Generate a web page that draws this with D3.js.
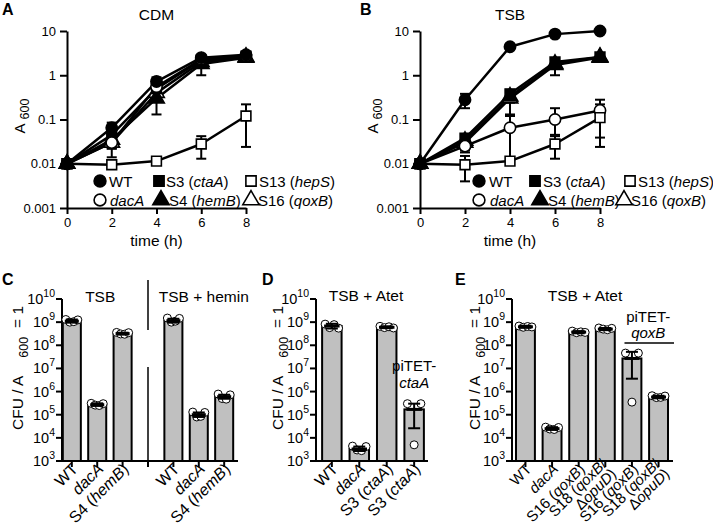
<!DOCTYPE html>
<html><head><meta charset="utf-8">
<script src="https://cdn.jsdelivr.net/npm/d3@7"></script>
<style>
body{margin:0;background:#fff}
text{font-family:"Liberation Sans",Arial,sans-serif;fill:#000}
</style></head><body>
<svg id="c" width="713" height="528" xmlns="http://www.w3.org/2000/svg"></svg>
<script>
// ---------------- DATA ----------------
const times=[0,2,4,6,8];
const growthTicks=[0.001,0.01,0.1,1,10];
const growthTickLabels=["0.001","0.01","0.1","1","10"];
const strains=["WT","dacA","S3","S4","S13","S16"];
const strainLabels=["WT","dacA","S3 (ctaA)","S4 (hemB)","S13 (hepS)","S16 (qoxB)"];

// Panel A: CDM (A600)
const cdmWT   =[0.01,0.065,0.72,2.5,2.9];
const cdmWTHi =[null,0.085,0.9,null,null];
const cdmWTLo =[null,0.05,0.55,null,null];
const cdmDac  =[0.01,0.03,0.55,2.3,2.7];
const cdmDacHi=[null,0.04,0.7,2.7,3.0];
const cdmDacLo=[null,0.022,0.4,2.0,2.4];
const cdmS3   =[0.01,0.045,0.5,2.2,2.7];
const cdmS3Hi =[null,0.055,0.6,2.5,3.0];
const cdmS3Lo =[null,0.035,0.4,1.9,2.4];
const cdmS4   =[0.01,0.035,0.3,1.8,2.5];
const cdmS4Hi =[null,0.045,0.45,2.2,2.8];
const cdmS4Lo =[null,0.014,0.13,1.0,2.2];
const cdmS13  =[0.01,0.0095,0.0115,0.028,0.12];
const cdmS13Hi=[null,null,null,0.042,0.22];
const cdmS13Lo=[null,null,null,0.013,0.024];
const cdmS16  =[0.01,0.03,0.4,2.0,2.6];
const cdmS16Hi=[null,0.038,0.5,2.4,2.9];
const cdmS16Lo=[null,0.022,0.3,1.6,2.3];

// Panel B: TSB (A600)
const tsbWT   =[0.01,0.28,4.4,8.5,10];
const tsbWTHi =[null,0.38,null,null,null];
const tsbWTLo =[null,0.18,null,null,null];
const tsbDac  =[0.01,0.025,0.065,0.1,0.16];
const tsbDacHi=[null,0.03,0.13,0.18,0.28];
const tsbDacLo=[null,0.02,0.012,0.045,0.039];
const tsbS3   =[0.01,0.038,0.38,2.0,2.6];
const tsbS3Hi =[null,0.045,0.47,2.4,3.0];
const tsbS3Lo =[null,0.03,0.3,1.7,2.3];
const tsbS4   =[0.01,0.033,0.33,1.8,2.6];
const tsbS4Hi =[null,0.04,0.42,2.2,2.9];
const tsbS4Lo =[null,0.018,0.12,1.0,2.3];
const tsbS13  =[0.01,0.0095,0.0115,0.028,0.11];
const tsbS13Hi=[null,0.015,null,0.042,0.22];
const tsbS13Lo=[null,0.004,null,0.013,0.024];
const tsbS16  =[0.01,0.03,0.3,1.7,2.5];
const tsbS16Hi=[null,0.036,0.38,2.0,2.8];
const tsbS16Lo=[null,0.024,0.24,1.4,2.2];

// Bar panels (CFU / A600 = 1)
const cfuTicks=[1e3,1e4,1e5,1e6,1e7,1e8,1e9,1e10];
const cfuTickExp=["3","4","5","6","7","8","9","10"];

// Panel C
const cIds   =["WT","dacA","S4","gap","WT+h","dacA+h","S4+h"];
const cLabels=["WT","dacA","S4 (hemB)","","WT","dacA","S4 (hemB)"];
const cMeans =[1.1e9,2.7e5,3.2e8,null,1.15e9,1.0e5,6.0e5];
const cHi    =[1.3e9,3.1e5,3.5e8,null,1.4e9,1.25e5,7.3e5];
const cLo    =[9.5e8,2.4e5,2.9e8,null,9.5e8,8e4,4.9e5];
const cReps  =[[1.3e9,1.0e9,1.05e9,1.25e9],[3.1e5,2.6e5,2.5e5,3.0e5],[3.6e8,3.1e8,3.0e8,3.5e8],[],
               [1.5e9,1.0e9,1.1e9,1.45e9],[1.3e5,8e4,8.5e4,1.25e5],[7.8e5,5e5,4.7e5,7.2e5]];

// Panel D
const dIds   =["WT","dacA","S3","S3p"];
const dLabels=["WT","dacA","S3 (ctaA)","S3 (ctaA)"];
const dMeans =[6.8e8,3.3e3,6.0e8,1.7e5];
const dHi    =[8.5e8,4.2e3,6.6e8,3.0e5];
const dLo    =[5.3e8,2.7e3,5.5e8,2.6e4];
const dReps  =[[8.2e8,5.8e8,7.8e8,5.5e8],[4.4e3,3.0e3,2.8e3,4.2e3],[6.6e8,5.8e8,6.3e8,5.6e8],[3.0e5,5e3,3.0e5]];

// Panel E
const eIds   =["WT","dacA","S16","S18","S16p","S18p"];
const eLabels=["WT","dacA","S16 (qoxB)","S18 (qoxB/\nΔopuD)","S16 (qoxB)","S18 (qoxB/\nΔopuD)"];
const eMeans =[6.3e8,2.5e4,3.7e8,5.0e8,2.7e7,5.8e5];
const eHi    =[7.0e8,2.9e4,4.1e8,5.6e8,5.2e7,6.6e5];
const eLo    =[5.7e8,2.2e4,3.3e8,4.5e8,3.6e6,5.1e5];
const eReps  =[[6.8e8,6.0e8,6.5e8,6.2e8],[2.9e4,2.4e4,2.3e4,2.8e4],[4.1e8,3.5e8,3.8e8,3.6e8],
               [5.6e8,5.0e8,4.7e8,5.4e8],[4.6e7,3.5e5,4.6e7],[6.6e5,5.5e5,5.6e5,6.4e5]];

// ---------------- DRAW ----------------
const svg=d3.select("#c");
const FONT='"Liberation Sans", Arial, sans-serif';
const genes=["dacA","hemB","ctaA","qoxB","opuD","hepS"];
function richText(sel,str){
  str.split(/(dacA|hemB|ctaA|qoxB|opuD|hepS)/).forEach(p=>{
    if(!p) return;
    sel.append("tspan").attr("font-style",genes.includes(p)?"italic":null).text(p);
  });
}
function styleAxis(a,fs){
  a.selectAll("path,line").attr("stroke","#000").attr("stroke-width",2);
  a.selectAll("text").attr("font-size",fs).attr("font-family",FONT).attr("fill","#000");
}
const shapes={WT:[d3.symbolCircle,true],dacA:[d3.symbolCircle,false],S3:[d3.symbolSquare,true],
  S4:[d3.symbolTriangle,true],S13:[d3.symbolSquare,false],S16:[d3.symbolTriangle,false]};
const symSize={circle:100,square:95,triangle:105};
function symPath(k,scale){
  const [t,f]=shapes[k];
  const s=t===d3.symbolCircle?symSize.circle:t===d3.symbolSquare?symSize.square:symSize.triangle;
  return d3.symbol().type(t).size(s*(scale||1))();
}

function growthPanel(cfg){
  const g=svg.append("g");
  const x=d3.scaleLinear().domain([0,8]).range([cfg.x0,cfg.x1]);
  const y=d3.scaleLog().domain([0.001,10]).range([208,31]);
  const ya=g.append("g").attr("transform",`translate(${cfg.x0},0)`)
    .call(d3.axisLeft(y).tickValues(growthTicks).tickFormat((d,i)=>growthTickLabels[i]).tickSize(7).tickSizeOuter(0).tickPadding(4));
  const xa=g.append("g").attr("transform","translate(0,208)")
    .call(d3.axisBottom(x).tickValues(times).tickFormat(d3.format("d")).tickSize(6).tickSizeOuter(0).tickPadding(4));
  styleAxis(ya,13);styleAxis(xa,13);
  const series=strains.map((s,i)=>({key:s,v:cfg.data[i][0],hi:cfg.data[i][1],lo:cfg.data[i][2]}));
  const line=d3.line().x((d,i)=>x(times[i])).y(d=>y(d));
  g.selectAll(".ln").data(series).join("path").attr("d",d=>line(d.v))
    .attr("fill","none").attr("stroke","#000").attr("stroke-width",2.5).attr("stroke-linejoin","round");
  series.forEach(s=>{
    s.v.forEach((v,i)=>{
      const hi=s.hi[i],lo=s.lo[i];
      const cx=x(times[i]);
      [hi,lo].forEach(e=>{
        if(e==null) return;
        g.append("line").attr("x1",cx).attr("x2",cx).attr("y1",y(v)).attr("y2",y(e)).attr("stroke","#000").attr("stroke-width",2);
        g.append("line").attr("x1",cx-5).attr("x2",cx+5).attr("y1",y(e)).attr("y2",y(e)).attr("stroke","#000").attr("stroke-width",2);
      });
    });
  });
  const order=["S16","S4","S3","dacA","S13","WT"];
  order.forEach(k=>{
    const s=series.find(d=>d.key===k);
    g.selectAll(null).data(s.v).join("path").attr("d",symPath(k))
      .attr("transform",(d,i)=>`translate(${x(times[i])},${y(d)})`)
      .attr("fill",shapes[k][1]?"#000":"#fff").attr("stroke","#000").attr("stroke-width",1.6);
  });
  g.append("text").attr("x",(cfg.x0+cfg.x1)/2).attr("y",20).attr("text-anchor","middle").attr("font-size",15.5).text(cfg.title);
  g.append("text").attr("x",cfg.letterX).attr("y",15).attr("font-size",16).attr("font-weight","bold").text(cfg.letter);
  g.append("text").attr("x",(cfg.x0+cfg.x1)/2).attr("y",246).attr("text-anchor","middle").attr("font-size",15.5).text("time (h)");
  const yl=g.append("text").attr("transform",`translate(${cfg.x0-42},116) rotate(-90)`).attr("text-anchor","middle").attr("font-size",15);
  yl.append("tspan").text("A");
  yl.append("tspan").attr("dx",4).attr("dy",4).attr("font-size",12.5).text("600");
  cfg.legend.forEach(it=>{
    g.append("path").attr("d",symPath(it.k,1.1)).attr("transform",`translate(${it.sx},${it.y})`)
      .attr("fill",shapes[it.k][1]?"#000":"#fff").attr("stroke","#000").attr("stroke-width",1.6);
    const t=g.append("text").attr("x",it.tx).attr("y",it.y+5.5).attr("font-size",15);
    richText(t,strainLabels[strains.indexOf(it.k)]);
  });
}

growthPanel({x0:67,x1:246,title:"CDM",letter:"A",letterX:2,
  data:[[cdmWT,cdmWTHi,cdmWTLo],[cdmDac,cdmDacHi,cdmDacLo],[cdmS3,cdmS3Hi,cdmS3Lo],[cdmS4,cdmS4Hi,cdmS4Lo],[cdmS13,cdmS13Hi,cdmS13Lo],[cdmS16,cdmS16Hi,cdmS16Lo]],
  legend:[{k:"WT",sx:100,tx:109,y:181},{k:"S3",sx:159,tx:166,y:181},{k:"S13",sx:251,tx:259,y:181},
          {k:"dacA",sx:100,tx:110,y:200},{k:"S4",sx:161,tx:169,y:200},{k:"S16",sx:251,tx:258,y:200}]});
growthPanel({x0:420,x1:600,title:"TSB",letter:"B",letterX:360,
  data:[[tsbWT,tsbWTHi,tsbWTLo],[tsbDac,tsbDacHi,tsbDacLo],[tsbS3,tsbS3Hi,tsbS3Lo],[tsbS4,tsbS4Hi,tsbS4Lo],[tsbS13,tsbS13Hi,tsbS13Lo],[tsbS16,tsbS16Hi,tsbS16Lo]],
  legend:[{k:"WT",sx:479,tx:489,y:181},{k:"S3",sx:535,tx:543,y:181},{k:"S13",sx:630,tx:638,y:181},
          {k:"dacA",sx:479,tx:490,y:200},{k:"S4",sx:540,tx:548,y:200},{k:"S16",sx:624,tx:631,y:200}]});

function barPanel(cfg){
  const g=svg.append("g");
  const x=d3.scaleBand().domain(cfg.ids).range([cfg.r0,cfg.r1]).paddingInner(0.29).paddingOuter(0.15);
  const y=d3.scaleLog().domain([1e3,1e10]).range([461,299]);
  const bw=x.bandwidth();
  g.append("line").attr("x1",cfg.ax).attr("x2",cfg.ax).attr("y1",y(1e10)).attr("y2",461).attr("stroke","#000").attr("stroke-width",2);
  cfuTicks.forEach((t,i)=>{
    g.append("line").attr("x1",cfg.ax-6).attr("x2",cfg.ax).attr("y1",y(t)).attr("y2",y(t)).attr("stroke","#000").attr("stroke-width",2);
    const tx=g.append("text").attr("x",cfg.ax-7).attr("y",y(t)+5).attr("text-anchor","end").attr("font-size",14.5);
    tx.append("tspan").text("10");
    tx.append("tspan").attr("dy",-7).attr("font-size",10.5).text(cfuTickExp[i]);
  });
  g.append("line").attr("x1",cfg.ax-1).attr("x2",cfg.xEnd).attr("y1",461).attr("y2",461).attr("stroke","#000").attr("stroke-width",2);
  cfg.ids.forEach(id=>{
    const cx=x(id)+bw/2;
    g.append("line").attr("x1",cx).attr("x2",cx).attr("y1",461).attr("y2",467).attr("stroke","#000").attr("stroke-width",2);
  });
  cfg.ids.forEach((id,i)=>{
    const m=cfg.means[i]; if(m==null) return;
    g.append("rect").attr("x",x(id)).attr("y",y(m)).attr("width",bw).attr("height",461-y(m))
      .attr("fill","#c0c0c0").attr("stroke","#000").attr("stroke-width",2);
  });
  cfg.ids.forEach((id,i)=>{
    const reps=cfg.reps[i]; if(!reps.length) return;
    const px=d3.scalePoint().domain(d3.range(reps.length)).range([-bw/2+3,bw/2-3]);
    g.selectAll(null).data(reps).join("circle").attr("cx",(d,j)=>x(id)+bw/2+px(j)).attr("cy",d=>y(d)).attr("r",4)
      .attr("fill","#fff").attr("stroke","#000").attr("stroke-width",1);
  });
  cfg.ids.forEach((id,i)=>{
    const m=cfg.means[i]; if(m==null) return;
    const cx=x(id)+bw/2;
    g.append("line").attr("x1",cx).attr("x2",cx).attr("y1",y(cfg.hi[i])).attr("y2",y(cfg.lo[i])).attr("stroke","#000").attr("stroke-width",2);
    [cfg.hi[i],cfg.lo[i]].forEach(e=>g.append("line").attr("x1",cx-6).attr("x2",cx+6).attr("y1",y(e)).attr("y2",y(e)).attr("stroke","#000").attr("stroke-width",2));
    g.append("line").attr("x1",cx-bw/2+2).attr("x2",cx+bw/2-2).attr("y1",y(m)).attr("y2",y(m)).attr("stroke","#000").attr("stroke-width",3);
  });
  cfg.ids.forEach((id,i)=>{
    const lab=cfg.labels[i]; if(!lab) return;
    const cx=x(id)+bw/2;
    const lines=lab.split("\n");
    const lh=0.9;
    const t=g.append("text").attr("transform",`translate(${cx+7},${470}) rotate(-45)`).attr("text-anchor","end").attr("font-size",cfg.labFs||16);
    lines.forEach((ln,k)=>{
      const ts=t.append("tspan").attr("x",0).attr("dy",(k? lh : -(lines.length-1)/2*lh)+"em");
      richText(ts,ln);
    });
  });
  const yl=g.append("text").attr("transform",`translate(${cfg.labX},430) rotate(-90)`).attr("font-size",15.5);
  yl.append("tspan").text("CFU / A");
  yl.append("tspan").attr("dx",18).attr("dy",5).attr("font-size",12.5).text("600");
  yl.append("tspan").attr("dx",9).attr("dy",-5).text("= 1");
  g.append("text").attr("x",cfg.letterX).attr("y",285).attr("font-size",16).attr("font-weight","bold").text(cfg.letter);
  return {g,x,y,bw};
}

const C=barPanel({ids:cIds,labels:cLabels,means:cMeans,hi:cHi,lo:cLo,reps:cReps,r0:59,r1:237,ax:62,xEnd:238,labX:23,letter:"C",letterX:2});
{
  const cx=C.x("gap")+C.bw/2;
  C.g.append("line").attr("x1",cx).attr("x2",cx).attr("y1",280).attr("y2",330).attr("stroke","#000").attr("stroke-width",1.5);
  C.g.append("line").attr("x1",cx).attr("x2",cx).attr("y1",367).attr("y2",461).attr("stroke","#000").attr("stroke-width",1.5);
  C.g.append("text").attr("x",C.x("dacA")+C.bw/2+3).attr("y",302).attr("text-anchor","middle").attr("font-size",15.5).text("TSB");
  C.g.append("text").attr("x",C.x("dacA+h")+C.bw/2+5).attr("y",302).attr("text-anchor","middle").attr("font-size",15.5).text("TSB + hemin");
}
const D=barPanel({ids:dIds,labels:dLabels,means:dMeans,hi:dHi,lo:dLo,reps:dReps,r0:318,r1:428,ax:316,xEnd:428,labX:283,letter:"D",letterX:262});
{
  D.g.append("text").attr("x",366).attr("y",301).attr("text-anchor","middle").attr("font-size",15.5).text("TSB + Atet");
  const cx=D.x("S3p")+D.bw/2;
  D.g.append("text").attr("x",cx).attr("y",371).attr("text-anchor","middle").attr("font-size",15).text("piTET-");
  D.g.append("text").attr("x",cx).attr("y",388).attr("text-anchor","middle").attr("font-size",15).attr("font-style","italic").text("ctaA");
}
const E=barPanel({ids:eIds,labels:eLabels,means:eMeans,hi:eHi,lo:eLo,reps:eReps,r0:512,r1:672,ax:512,xEnd:673,labX:480,letter:"E",letterX:455,labFs:15});
{
  E.g.append("text").attr("x",585).attr("y",301).attr("text-anchor","middle").attr("font-size",15.5).text("TSB + Atet");
  const x1=E.x("S16p"), x2=E.x("S18p")+E.bw;
  const mid=(x1+x2)/2+3;
  E.g.append("text").attr("x",mid).attr("y",322).attr("text-anchor","middle").attr("font-size",15).text("piTET-");
  E.g.append("text").attr("x",mid).attr("y",338).attr("text-anchor","middle").attr("font-size",15).attr("font-style","italic").text("qoxB");
  E.g.append("line").attr("x1",x1+2).attr("x2",x2+6).attr("y1",343).attr("y2",343).attr("stroke","#000").attr("stroke-width",1.5);
}
</script>
</body></html>
